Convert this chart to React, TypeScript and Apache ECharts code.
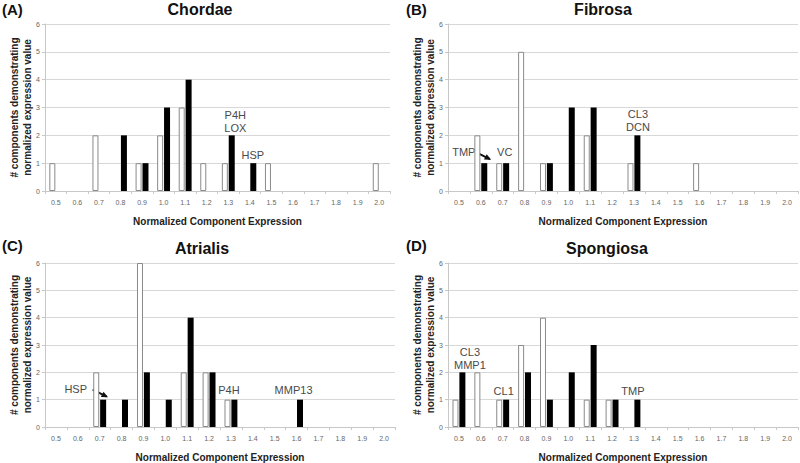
import React, { useEffect, useRef } from "react";
import * as echarts from "echarts";

const categories = ["0.5","0.6","0.7","0.8","0.9","1.0","1.1","1.2","1.3","1.4","1.5","1.6","1.7","1.8","1.9","2.0"];
const yTicks = [0, 1, 2, 3, 4, 5, 6];

const panelTitles = ["Chordae", "Fibrosa", "Atrialis", "Spongiosa"];
const panelLetters = ["(A)", "(B)", "(C)", "(D)"];

// white (open) bars
const chordaeOpen  = [1,0,2,0,1,2,3,1,1,0,1,0,0,0,0,1];
const fibrosaOpen  = [0,2,1,5,1,0,2,0,1,0,0,1,0,0,0,0];
const atrialisOpen = [0,0,2,0,6,0,2,2,1,0,0,0,0,0,0,0];
const spongiosaOpen= [1,2,1,3,4,0,1,1,0,0,0,0,0,0,0,0];
// black (filled) bars
const chordaeFilled  = [0,0,0,2,1,3,4,0,2,1,0,0,0,0,0,0];
const fibrosaFilled  = [0,1,1,0,1,3,3,0,2,0,0,0,0,0,0,0];
const atrialisFilled = [0,0,1,1,2,1,4,2,1,0,0,1,0,0,0,0];
const spongiosaFilled= [2,0,1,2,1,2,3,1,1,0,0,0,0,0,0,0];

const openSeries = [chordaeOpen, fibrosaOpen, atrialisOpen, spongiosaOpen];
const filledSeries = [chordaeFilled, fibrosaFilled, atrialisFilled, spongiosaFilled];

// annotations: panel, category, value, text, pixel offset
const annotations = [
  { panel: 0, cat: "1.3", val: 2, text: "P4H\nLOX", dx: 7, dy: -14 },
  { panel: 0, cat: "1.4", val: 1, text: "HSP", dx: 3, dy: -8 },
  { panel: 1, cat: "0.6", val: 1, text: "TMP", dx: -17, dy: -11 },
  { panel: 1, cat: "0.7", val: 1, text: "VC", dx: 2, dy: -11 },
  { panel: 1, cat: "1.3", val: 2, text: "CL3\nDCN", dx: 4, dy: -15 },
  { panel: 2, cat: "0.7", val: 1, text: "HSP", dx: -24, dy: -11 },
  { panel: 2, cat: "1.3", val: 1, text: "P4H", dx: -2, dy: -10 },
  { panel: 2, cat: "1.6", val: 1, text: "MMP13", dx: -3, dy: -10 },
  { panel: 3, cat: "0.5", val: 2, text: "CL3\nMMP1", dx: 11, dy: -14 },
  { panel: 3, cat: "0.7", val: 1, text: "CL1", dx: 1, dy: -9 },
  { panel: 3, cat: "1.3", val: 1, text: "TMP", dx: -1, dy: -9 },
];
const arrows = [
  { panel: 1, cat: "0.6", val: 1, x1: -5, y1: -11, x2: 9, y2: -4 },
  { panel: 2, cat: "0.7", val: 1, x1: -7, y1: -10, x2: 7, y2: -3 },
];

const grids = [
  { left: 45, top: 24, width: 345, height: 167 },
  { left: 448, top: 24, width: 350, height: 167 },
  { left: 45, top: 263, width: 350, height: 168 },
  { left: 448, top: 263, width: 350, height: 167 },
];
const titlePos = [
  { x: 200, y: 9, lx: 2, ly: 9 },
  { x: 603, y: 9, lx: 406, ly: 9 },
  { x: 202, y: 248, lx: 2, ly: 245 },
  { x: 607, y: 248, lx: 406, ly: 245 },
];

const FONT = "Liberation Sans, Arial, sans-serif";

export default function App() {
  const ref = useRef<HTMLDivElement>(null);
  useEffect(() => {
    document.body.style.margin = "0";
    const chart = echarts.init(ref.current!, null, { renderer: "svg" });
    const xAxis: any[] = [];
    const yAxis: any[] = [];
    const series: any[] = [];
    const nz = (arr: number[]) => arr.map((v) => (v === 0 ? null : v));
    grids.forEach((g, i) => {
      xAxis.push({
        type: "category",
        gridIndex: i,
        data: categories,
        name: "Normalized Component Expression",
        nameLocation: "middle",
        nameGap: 25,
        nameMoveOverlap: false,
        nameTextStyle: { fontFamily: FONT, fontSize: 10, fontWeight: "bold", color: "#222" },
        axisLine: { lineStyle: { color: "#c8c8c8" } },
        axisTick: { show: true, length: 3, lineStyle: { color: "#c8c8c8" } },
        axisLabel: { fontFamily: FONT, fontSize: 7, color: "#666", margin: 8, interval: 0 },
      });
      yAxis.push({
        type: "value",
        gridIndex: i,
        min: 0,
        max: 6,
        interval: 1,
        name: "# components demonstrating\nnormalized expression value",
        nameLocation: "middle",
        nameRotate: 90,
        nameGap: 11,
        nameMoveOverlap: false,
        nameTextStyle: { fontFamily: FONT, fontSize: 10, fontWeight: "bold", color: "#222", lineHeight: 13 },
        axisLine: { show: true, lineStyle: { color: "#c8c8c8" } },
        axisTick: { show: true, length: 3, lineStyle: { color: "#c8c8c8" } },
        axisLabel: { fontFamily: FONT, fontSize: 7, color: "#666", margin: 5, formatter: (v: number) => (yTicks.includes(v) ? String(v) : "") },
        splitLine: { lineStyle: { color: "#d8d8d8" } },
      });
      series.push({
        type: "bar",
        xAxisIndex: i,
        yAxisIndex: i,
        data: nz(openSeries[i]),
        barWidth: 6,
        barGap: "15%",
        itemStyle: { color: "#ffffff", borderColor: "#8a8a8a", borderWidth: 1 },
      });
      series.push({
        type: "bar",
        xAxisIndex: i,
        yAxisIndex: i,
        data: nz(filledSeries[i]),
        barWidth: 6,
        barGap: "15%",
        itemStyle: { color: "#000000" },
      });
    });
    const baseGraphics: any[] = [];
    titlePos.forEach((t, i) => {
      baseGraphics.push({
        type: "text",
        x: t.x,
        y: t.y,
        style: { text: panelTitles[i], fontFamily: FONT, fontSize: 16, fontWeight: "bold", fill: "#111", align: "center", verticalAlign: "middle" },
      });
      baseGraphics.push({
        type: "text",
        x: t.lx,
        y: t.ly,
        style: { text: panelLetters[i], fontFamily: FONT, fontSize: 15, fontWeight: "bold", fill: "#111", align: "left", verticalAlign: "middle" },
      });
    });
    chart.setOption({
      animation: false,
      backgroundColor: "#ffffff",
      grid: grids.map((g) => ({ ...g, containLabel: false })),
      xAxis,
      yAxis,
      series,
      graphic: baseGraphics,
    });
    const toPx = (panel: number, cat: string, val: number) =>
      chart.convertToPixel({ xAxisIndex: panel, yAxisIndex: panel }, [cat, val]) as number[];
    const extra: any[] = [];
    annotations.forEach((a) => {
      const p = toPx(a.panel, a.cat, a.val);
      extra.push({
        type: "text",
        x: p[0] + a.dx,
        y: p[1] + a.dy,
        style: { text: a.text, fontFamily: FONT, fontSize: 11, fill: "#4a4a4a", align: "center", verticalAlign: "middle", lineHeight: 13 },
      });
    });
    arrows.forEach((a) => {
      const p = toPx(a.panel, a.cat, a.val);
      const x1 = p[0] + a.x1, y1 = p[1] + a.y1, x2 = p[0] + a.x2, y2 = p[1] + a.y2;
      extra.push({ type: "line", shape: { x1, y1, x2, y2 }, style: { stroke: "#111", lineWidth: 2 } });
      const ang = Math.atan2(y2 - y1, x2 - x1);
      const L = 5, W = 3;
      const bx = x2 - L * Math.cos(ang), by = y2 - L * Math.sin(ang);
      extra.push({
        type: "polygon",
        shape: { points: [[x2 + 1.5 * Math.cos(ang), y2 + 1.5 * Math.sin(ang)], [bx - W * Math.sin(ang), by + W * Math.cos(ang)], [bx + W * Math.sin(ang), by - W * Math.cos(ang)]] },
        style: { fill: "#111" },
      });
    });
    chart.setOption({ graphic: [...baseGraphics, ...extra] });
    return () => chart.dispose();
  }, []);
  return <div ref={ref} style={{ width: 800, height: 463 }} />;
}
